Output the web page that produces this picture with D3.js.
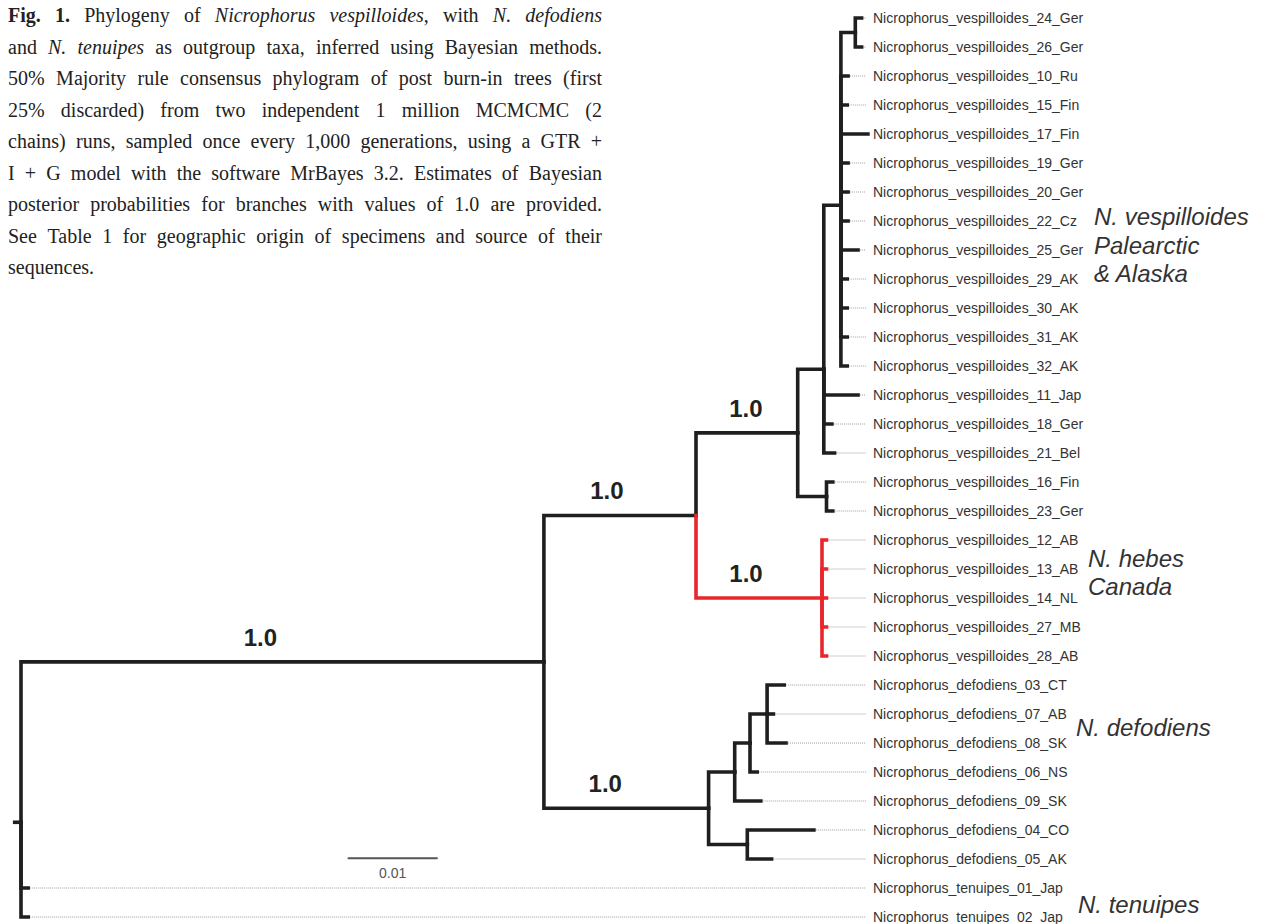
<!DOCTYPE html>
<html><head><meta charset="utf-8">
<script src="https://cdn.jsdelivr.net/npm/d3@7"></script>
<style>
html,body{margin:0;padding:0;background:#fff;}
svg{display:block;}
</style></head>
<body>
<svg id="chart" width="1265" height="924"></svg>
<script>
// ---------------- DATA ----------------
// Tree edges in top-to-bottom order: [node, parent, branch length (subst./site)]
const edges = [
  ["root", "", 0],
  ["G", "root", 0.0581],
  ["F", "G", 0.0169],
  ["D", "F", 0.0113],
  ["A", "D", 0.0029],
  ["B", "A", 0.0019],
  ["C", "B", 0.0016],
  ["Nicrophorus_vespilloides_24_Ger", "C", 0.0007],
  ["Nicrophorus_vespilloides_26_Ger", "C", 0.0007],
  ["Nicrophorus_vespilloides_10_Ru", "B", 0.0008],
  ["Nicrophorus_vespilloides_15_Fin", "B", 0.0007],
  ["Nicrophorus_vespilloides_17_Fin", "B", 0.0030],
  ["Nicrophorus_vespilloides_19_Ger", "B", 0.0008],
  ["Nicrophorus_vespilloides_20_Ger", "B", 0.0008],
  ["Nicrophorus_vespilloides_22_Cz", "B", 0.0008],
  ["Nicrophorus_vespilloides_25_Ger", "B", 0.0019],
  ["Nicrophorus_vespilloides_29_AK", "B", 0.0007],
  ["Nicrophorus_vespilloides_30_AK", "B", 0.0007],
  ["Nicrophorus_vespilloides_31_AK", "B", 0.0007],
  ["Nicrophorus_vespilloides_32_AK", "B", 0.0007],
  ["Nicrophorus_vespilloides_11_Jap", "A", 0.0038],
  ["Nicrophorus_vespilloides_18_Ger", "A", 0.0009],
  ["Nicrophorus_vespilloides_21_Bel", "A", 0.0012],
  ["E", "D", 0.0032],
  ["Nicrophorus_vespilloides_16_Fin", "E", 0.0007],
  ["Nicrophorus_vespilloides_23_Ger", "E", 0.0007],
  ["HEB", "F", 0.0140],
  ["Nicrophorus_vespilloides_12_AB", "HEB", 0.0005],
  ["Nicrophorus_vespilloides_13_AB", "HEB", 0.0005],
  ["Nicrophorus_vespilloides_14_NL", "HEB", 0.0005],
  ["Nicrophorus_vespilloides_27_MB", "HEB", 0.0005],
  ["Nicrophorus_vespilloides_28_AB", "HEB", 0.0005],
  ["H", "G", 0.0183],
  ["I", "H", 0.0029],
  ["J", "I", 0.0017],
  ["K", "J", 0.0019],
  ["Nicrophorus_defodiens_03_CT", "K", 0.0019],
  ["Nicrophorus_defodiens_07_AB", "K", 0.0007],
  ["Nicrophorus_defodiens_08_SK", "K", 0.0021],
  ["Nicrophorus_defodiens_06_NS", "J", 0.0008],
  ["Nicrophorus_defodiens_09_SK", "I", 0.0029],
  ["L", "H", 0.0043],
  ["Nicrophorus_defodiens_04_CO", "L", 0.0074],
  ["Nicrophorus_defodiens_05_AK", "L", 0.0027],
  ["Nicrophorus_tenuipes_01_Jap", "root", 0.0008],
  ["Nicrophorus_tenuipes_02_Jap", "root", 0.0008]
];
const rootStubLength = 0.0009;
// Bayesian posterior probabilities shown on branches
const supportNodes = ["G", "F", "D", "HEB", "H"];
const supportValues = ["1.0", "1.0", "1.0", "1.0", "1.0"];
// Highlighted clade (red)
const redClade = "HEB";
// Clade names
const cladeNames = [["N. vespilloides", "Palearctic", "& Alaska"], ["N. hebes", "Canada"], ["N. defodiens"], ["N. tenuipes"]];
const cladeRows = [7.14, 18.93, 24.76, 30.86]; // leaf-row position of first line baseline
// Scale bar
const scaleBarLength = 0.01;
const scaleBarLabel = "0.01";
const scaleBarStart = 0.0363;
const scaleBarRow = 28.97;
// Caption
const captionLines = [
  [["Fig. 1.", "b"], [" Phylogeny of ", ""], ["Nicrophorus vespilloides", "i"], [", with ", ""], ["N. defodiens", "i"]],
  [["and ", ""], ["N. tenuipes", "i"], [" as outgroup taxa, inferred using Bayesian methods.", ""]],
  [["50% Majority rule consensus phylogram of post burn-in trees (first", ""]],
  [["25% discarded) from two independent 1 million MCMCMC (2", ""]],
  [["chains) runs, sampled once every 1,000 generations, using a GTR +", ""]],
  [["I + G model with the software MrBayes 3.2. Estimates of Bayesian", ""]],
  [["posterior probabilities for branches with values of 1.0 are provided.", ""]],
  [["See Table 1 for geographic origin of specimens and source of their", ""]],
  [["sequences.", ""]]
];

// ---------------- LAYOUT / STYLE ----------------
const rootX = 21;
const pxPerUnit = 9000;
const firstRowY = 18, rowStep = 29;
const leaderEnd = 866, labelX = 873;
const black = "#1f1f1f", red = "#e8262b";
const branchW = 3.6;
const supportDx = [-22, -13, -1, -13, -21];
const cladeX = [1094, 1088, 1076, 1078];
const sans = "'Liberation Sans', Arial, Helvetica, sans-serif";

const svg = d3.select("#chart");

const x = d3.scaleLinear().domain([0, 1]).range([rootX, rootX + pxPerUnit]);
const y = d3.scaleLinear().domain([0, 1]).range([firstRowY, firstRowY + rowStep]);

const root = d3.stratify().id(d => d[0]).parentId(d => d[1] || null)(edges);
root.eachBefore(n => { n.len = n.parent ? n.parent.len + n.data[2] : 0; });
const leaves = root.leaves();
leaves.forEach((l, i) => { l.row = i; });
root.eachAfter(n => {
  if (n.children) n.row = d3.mean(n.children, c => c.row);
});
const redNode = root.find(n => n.id === redClade);
const redSet = new Set(redNode.descendants());

const gTree = svg.append("g");

// leader dotted lines
gTree.append("g").selectAll("line").data(leaves.filter(l => x(l.len) + 3 < leaderEnd)).join("line")
  .attr("x1", d => x(d.len) + 2).attr("x2", leaderEnd)
  .attr("y1", d => y(d.row)).attr("y2", d => y(d.row))
  .attr("stroke", "#a0a0a0").attr("stroke-width", 1).attr("stroke-dasharray", "1 1");

// branches
gTree.append("g").selectAll("path").data(root.descendants().filter(n => n.parent)).join("path")
  .attr("d", n => `M${x(n.parent.len)},${y(n.parent.row)}V${y(n.row)}H${x(n.len)}`)
  .attr("fill", "none")
  .attr("stroke", n => redSet.has(n) ? red : black)
  .attr("stroke-width", branchW)
  .attr("stroke-linecap", "square")
  .attr("stroke-linejoin", "miter");

// root stub
gTree.append("line")
  .attr("x1", x(-rootStubLength)).attr("x2", x(0))
  .attr("y1", y(root.row)).attr("y2", y(root.row))
  .attr("stroke", black).attr("stroke-width", branchW);

// leaf labels
gTree.append("g").selectAll("text").data(leaves).join("text")
  .attr("x", labelX).attr("y", d => y(d.row) + 5)
  .attr("font-family", sans)
  .attr("font-size", 14).attr("fill", "#333")
  .text(d => d.id);

// support values
const supportG = gTree.append("g");
supportNodes.forEach((id, i) => {
  const n = root.find(m => m.id === id);
  const mid = (x(n.parent.len) + x(n.len)) / 2 + supportDx[i];
  supportG.append("text")
    .attr("x", mid).attr("y", y(n.row) - 16)
    .attr("text-anchor", "middle")
    .attr("font-family", sans)
    .attr("font-weight", "bold").attr("font-size", 24).attr("fill", "#222")
    .text(supportValues[i]);
});

// clade names
cladeNames.forEach((lines, i) => {
  const t = svg.append("text")
    .attr("font-family", sans)
    .attr("font-style", "italic").attr("font-size", 24).attr("fill", "#333");
  lines.forEach((ln, j) => {
    t.append("tspan").attr("x", cladeX[i]).attr("y", y(cladeRows[i]) + j * 28.5).text(ln);
  });
});

// scale bar
svg.append("line")
  .attr("x1", x(scaleBarStart)).attr("x2", x(scaleBarStart + scaleBarLength))
  .attr("y1", y(scaleBarRow)).attr("y2", y(scaleBarRow))
  .attr("stroke", "#555").attr("stroke-width", 2);
svg.append("text")
  .attr("x", (x(scaleBarStart) + x(scaleBarStart + scaleBarLength)) / 2)
  .attr("y", y(scaleBarRow) + 20)
  .attr("text-anchor", "middle")
  .attr("font-family", sans)
  .attr("font-size", 14).attr("fill", "#555")
  .text(scaleBarLabel);

// caption (justified)
const capX = 8, capW = 594, capTop = 22, capLH = 31.5, capFS = 20;
const capG = svg.append("g")
  .attr("font-family", "'Liberation Serif', 'Times New Roman', Times, serif")
  .attr("font-size", capFS).attr("fill", "#222");
function toWords(segs) {
  const words = []; let cur = [];
  segs.forEach(([t, s]) => {
    t.split(" ").forEach((p, i) => {
      if (i > 0) { if (cur.length) words.push(cur); cur = []; }
      if (p) cur.push([p, s]);
    });
  });
  if (cur.length) words.push(cur);
  return words;
}
captionLines.forEach((segs, li) => {
  const words = toWords(segs);
  const yy = capTop + li * capLH;
  const nodes = words.map(w => {
    const t = capG.append("text").attr("y", yy);
    w.forEach(([p, s]) => {
      const ts = t.append("tspan").text(p);
      if (s === "b") ts.attr("font-weight", "bold");
      if (s === "i") ts.attr("font-style", "italic");
    });
    return t;
  });
  const widths = nodes.map(t => t.node().getComputedTextLength());
  const total = d3.sum(widths);
  const last = li === captionLines.length - 1;
  const spaceW = capFS * 0.25;
  const gap = last ? spaceW : (capW - total) / (words.length - 1);
  let cx = capX;
  nodes.forEach((t, i) => { t.attr("x", cx); cx += widths[i] + gap; });
});
</script>
</body></html>
